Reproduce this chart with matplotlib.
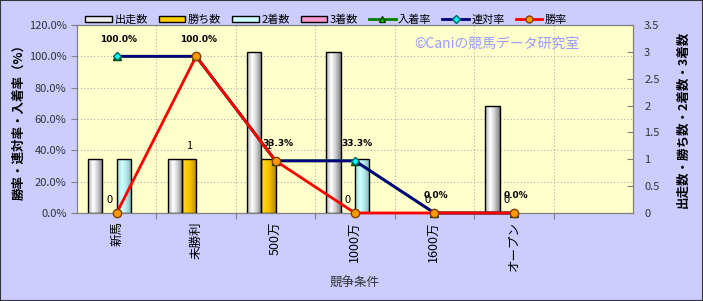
import numpy as np
import matplotlib
matplotlib.use("Agg")
import matplotlib.pyplot as plt
from matplotlib.colors import LinearSegmentedColormap
from matplotlib.lines import Line2D
from matplotlib.patches import Rectangle

plt.rcParams["font.family"] = ["Noto Sans CJK JP", "DejaVu Sans"]

categories = ["新馬", "未勝利", "500万", "1000万", "1600万", "オープン", ""]
starts = [1, 1, 3, 3, 0, 2, 0]
wins = [0, 1, 1, 0, 0, 0, 0]
seconds = [1, 0, 0, 1, 0, 0, 0]
thirds = [0, 0, 0, 0, 0, 0, 0]

win_rate = [0, 100, 33.3, 0, 0, 0]
rentai_rate = [100, 100, 33.3, 33.3, 0, 0]
place_rate = [100, 100, 33.3, 33.3, 0, 0]

rate_labels = ["100.0%", "100.0%", "33.3%", "33.3%", "0.0%", "0.0%"]
win_labels = ["0", "1", "1", "0", "0", "0"]

BG_OUT = "#ccccff"
BG_PLOT = "#ffffcc"

bar_series = [
    ("出走数", starts, ["#b0b0b0", "#ffffff", "#d8d8d8", "#808080"]),
    ("勝ち数", wins, ["#ffd840", "#ffcc00", "#f0bc00", "#b08800"]),
    ("2着数", seconds, ["#a8d8d8", "#ccffff", "#b8ecec", "#80b0b0"]),
    ("3着数", thirds, ["#e090b8", "#ffaad4", "#f09cc4", "#b06890"]),
]
legend_face = ["#eeeeee", "#ffcc00", "#ccffff", "#ff99cc"]

fig = plt.figure(figsize=(7.03, 3.01), dpi=100, facecolor=BG_OUT)
fig.patches.append(Rectangle((0, 0), 1, 1, transform=fig.transFigure,
                             fill=False, edgecolor="#333333", linewidth=1.5))

ax = fig.add_axes([0.1095, 0.2924, 0.7909, 0.6246])
ax.set_facecolor(BG_PLOT)
ax2 = ax.twinx()
ax3 = ax.twinx()

x = np.arange(len(categories))

# left axis: percentages, grid
ax.set_ylim(0, 120)
ax.set_yticks(np.arange(0, 121, 20))
ax.set_yticklabels([f"{v:.1f}%" for v in np.arange(0, 121, 20)])
ax.set_xlim(-0.5, len(categories) - 0.5)
ax.set_xticks(x[:-1] + 0.5)
ax.set_xticklabels([])
ax.set_xticks(x, minor=True)
ax.set_xticklabels(categories, minor=True, rotation=90, fontsize=9, va="top")
ax.tick_params(axis="x", which="minor", length=0, pad=6)
ax.tick_params(axis="x", which="major", length=4, direction="out", color="#808080")
ax.tick_params(axis="y", length=4, direction="out", color="#808080",
               labelsize=8, labelcolor="#333333")
ax.grid(True, which="major", color="#b0b0b0", linestyle=(0, (1, 2)), linewidth=0.8)
ax.set_axisbelow(True)
ax.set_ylabel("勝率・連対率・入着率（%）", fontsize=9, fontweight="bold", labelpad=2)
ax.set_xlabel("競争条件", fontsize=9, color="#333333", labelpad=4)
for sp in ax.spines.values():
    sp.set_color("#808080")

# right axis: counts as shaded bars
offsets = [-0.27, -0.09, 0.09, 0.27]
width = 0.18
ax2.set_ylim(0, 3.5)
ax2.set_yticks(np.arange(0, 3.51, 0.5))
ax2.set_yticklabels(["0", "0.5", "1", "1.5", "2", "2.5", "3", "3.5"])
ax2.tick_params(axis="y", length=4, direction="in", color="#808080",
                labelsize=8, labelcolor="#333333", pad=8)
ax2.set_ylabel("出走数・勝ち数・2着数・3着数", fontsize=9, fontweight="bold", labelpad=12)
for sp in ax2.spines.values():
    sp.set_color("#808080")

grad = np.linspace(0, 1, 64).reshape(1, -1)
for (name, vals, cols), off in zip(bar_series, offsets):
    cmap = LinearSegmentedColormap.from_list(name, [(0, cols[0]), (0.35, cols[1]),
                                                   (0.6, cols[2]), (1, cols[3])])
    edges = ["black" if v > 0 else "none" for v in vals]
    bars = ax2.bar(x + off, vals, width, facecolor="none", edgecolor=edges,
                   linewidth=1, zorder=3)
    for b, v in zip(bars, vals):
        if v == 0:
            continue
        im = ax2.imshow(grad, cmap=cmap, aspect="auto", zorder=2,
                        extent=(b.get_x(), b.get_x() + b.get_width(), 0, v))
        im.set_clip_path(b)

ax2.set_xlim(-0.5, len(categories) - 0.5)
ax2.set_ylim(0, 3.5)

for i, lab in enumerate(win_labels):
    ax2.annotate(lab, (x[i] + offsets[1], wins[i]), xytext=(0, 13),
                 textcoords="offset pixels", ha="center", va="center", fontsize=8)

# rate lines
n = len(win_rate)
ax3.set_ylim(0, 120)
ax3.set_yticks([])
for sp in ax3.spines.values():
    sp.set_visible(False)
ax3.plot(x[:n], place_rate, color="#008000", linewidth=2, marker="^",
         markersize=6, markerfacecolor="#00cc00", markeredgecolor="#004000",
         clip_on=False, zorder=3)
ax3.plot(x[:n], rentai_rate, color="#000080", linewidth=2, marker="D",
         markersize=4.5, markerfacecolor="#00ffff", markeredgecolor="#006060",
         clip_on=False, zorder=4)
ax3.plot(x[:n], win_rate, color="#ff0000", linewidth=2, marker="o",
         markersize=6, markerfacecolor="#ff9900", markeredgecolor="#804000",
         clip_on=False, zorder=5)
for i, lab in enumerate(rate_labels):
    ax3.annotate(lab, (x[i], rentai_rate[i]), xytext=(2, 17),
                 textcoords="offset pixels", ha="center", va="center",
                 fontsize=6.5, fontweight="bold", family="DejaVu Sans")
ax3.set_xlim(-0.5, len(categories) - 0.5)

ax3.text(0.607, 0.9, "©Caniの競馬データ研究室", transform=ax3.transAxes,
         fontsize=10, color="#9999ff", ha="left", va="center")

handles = [Rectangle((0, 0), 1, 1, facecolor=c, edgecolor="black", linewidth=1)
           for c in legend_face]
handles += [
    Line2D([], [], color="#008000", linewidth=2, marker="^", markersize=5,
           markerfacecolor="#00cc00", markeredgecolor="#004000"),
    Line2D([], [], color="#000080", linewidth=2, marker="D", markersize=4,
           markerfacecolor="#00ffff", markeredgecolor="#006060"),
    Line2D([], [], color="#ff0000", linewidth=2, marker="o", markersize=5,
           markerfacecolor="#ff9900", markeredgecolor="#804000"),
]
names = [s[0] for s in bar_series] + ["入着率", "連対率", "勝率"]
fig.legend(handles, names, loc="center", bbox_to_anchor=(0.464, 0.935), ncol=7,
           frameon=False, fontsize=8, handlelength=2.4, handleheight=0.5,
           handletextpad=0.2, columnspacing=1.0)

fig.savefig("out.png", dpi=100, facecolor=BG_OUT)
